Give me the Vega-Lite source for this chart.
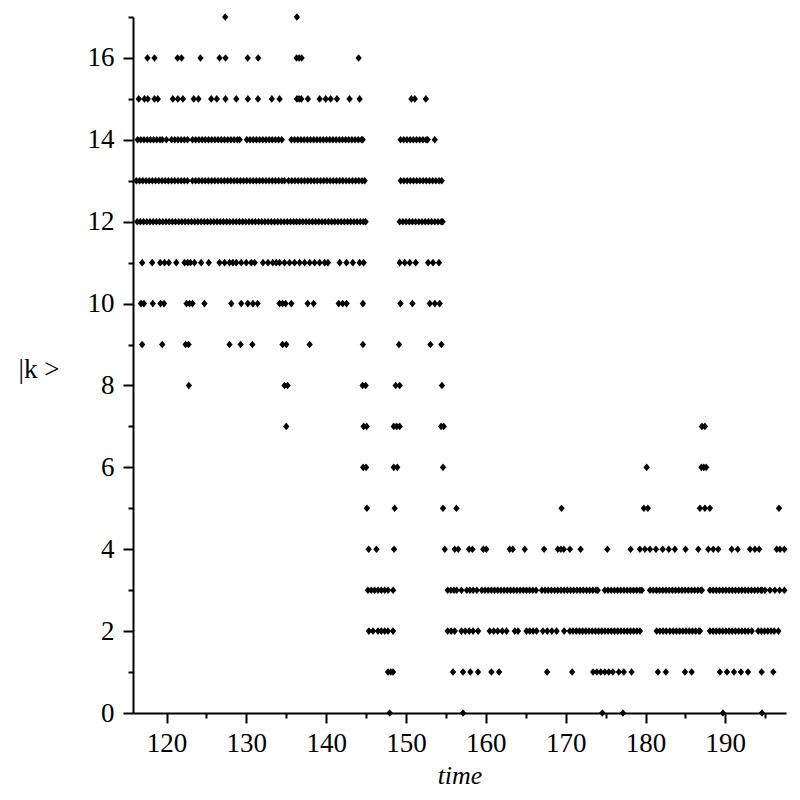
{
"$schema":"https://vega.github.io/schema/vega-lite/v6.json",
"autosize":{"type":"none"},
"padding":{"left":133,"top":17,"right":14,"bottom":87},
"width":653,"height":696,
"background":"white",
"config":{"view":{"stroke":null}},
"datasets":{
"minor":[{"t":160,"k":0}],
"pts":[
{"t":127.35,"k":17},{"t":136.33,"k":17},
{"t":117.61,"k":16},{"t":118.49,"k":16},{"t":121.38,"k":16},{"t":121.88,"k":16},{"t":124.25,"k":16},{"t":126.64,"k":16},{"t":127.39,"k":16},{"t":130.16,"k":16},{"t":131.48,"k":16},{"t":136.29,"k":16},{"t":136.61,"k":16},{"t":136.92,"k":16},{"t":144.06,"k":16},
{"t":116.52,"k":15},{"t":117.24,"k":15},{"t":117.65,"k":15},{"t":118.49,"k":15},{"t":118.91,"k":15},{"t":120.79,"k":15},{"t":121.42,"k":15},{"t":122.05,"k":15},{"t":123.41,"k":15},{"t":124.0,"k":15},{"t":125.6,"k":15},{"t":126.3,"k":15},{"t":127.39,"k":15},{"t":128.74,"k":15},{"t":130.19,"k":15},{"t":131.46,"k":15},{"t":133.19,"k":15},{"t":134.16,"k":15},{"t":136.33,"k":15},{"t":136.61,"k":15},{"t":136.88,"k":15},{"t":137.71,"k":15},{"t":139.18,"k":15},{"t":139.94,"k":15},{"t":140.56,"k":15},{"t":141.35,"k":15},{"t":142.93,"k":15},{"t":144.19,"k":15},{"t":150.68,"k":15},{"t":151.1,"k":15},{"t":152.48,"k":15},
{"t":116.38,"k":14},{"t":116.78,"k":14},{"t":117.18,"k":14},{"t":117.58,"k":14},{"t":117.98,"k":14},{"t":118.38,"k":14},{"t":118.78,"k":14},{"t":119.18,"k":14},{"t":119.48,"k":14},{"t":119.98,"k":14},{"t":120.63,"k":14},{"t":121.03,"k":14},{"t":121.43,"k":14},{"t":121.83,"k":14},{"t":122.23,"k":14},{"t":122.63,"k":14},{"t":123.26,"k":14},{"t":123.66,"k":14},{"t":124.06,"k":14},{"t":124.46,"k":14},{"t":124.86,"k":14},{"t":125.26,"k":14},{"t":125.66,"k":14},{"t":126.06,"k":14},{"t":126.46,"k":14},{"t":126.86,"k":14},{"t":127.26,"k":14},{"t":127.66,"k":14},{"t":128.06,"k":14},{"t":128.46,"k":14},{"t":128.86,"k":14},{"t":129.16,"k":14},{"t":130.06,"k":14},{"t":130.46,"k":14},{"t":130.86,"k":14},{"t":131.26,"k":14},{"t":131.66,"k":14},{"t":132.06,"k":14},{"t":132.46,"k":14},{"t":132.86,"k":14},{"t":133.24,"k":14},{"t":133.64,"k":14},{"t":134.04,"k":14},{"t":134.44,"k":14},{"t":135.64,"k":14},{"t":136.04,"k":14},{"t":136.44,"k":14},{"t":136.84,"k":14},{"t":137.24,"k":14},{"t":137.64,"k":14},{"t":138.04,"k":14},{"t":138.44,"k":14},{"t":138.84,"k":14},{"t":139.24,"k":14},{"t":139.64,"k":14},{"t":140.04,"k":14},{"t":140.44,"k":14},{"t":140.84,"k":14},{"t":141.24,"k":14},{"t":141.64,"k":14},{"t":142.04,"k":14},{"t":142.44,"k":14},{"t":142.82,"k":14},{"t":143.22,"k":14},{"t":143.62,"k":14},{"t":144.02,"k":14},{"t":144.42,"k":14},{"t":144.57,"k":14},{"t":149.32,"k":14},{"t":149.72,"k":14},{"t":150.12,"k":14},{"t":150.52,"k":14},{"t":150.92,"k":14},{"t":151.32,"k":14},{"t":151.72,"k":14},{"t":152.12,"k":14},{"t":152.52,"k":14},{"t":152.72,"k":14},{"t":153.6,"k":14},
{"t":116.23,"k":13},{"t":116.63,"k":13},{"t":117.03,"k":13},{"t":117.43,"k":13},{"t":117.83,"k":13},{"t":118.23,"k":13},{"t":118.63,"k":13},{"t":119.03,"k":13},{"t":119.43,"k":13},{"t":119.83,"k":13},{"t":120.23,"k":13},{"t":120.63,"k":13},{"t":121.03,"k":13},{"t":121.43,"k":13},{"t":121.83,"k":13},{"t":122.23,"k":13},{"t":122.63,"k":13},{"t":123.25,"k":13},{"t":123.65,"k":13},{"t":124.05,"k":13},{"t":124.45,"k":13},{"t":124.85,"k":13},{"t":125.25,"k":13},{"t":125.65,"k":13},{"t":126.05,"k":13},{"t":126.45,"k":13},{"t":126.85,"k":13},{"t":127.25,"k":13},{"t":127.65,"k":13},{"t":128.05,"k":13},{"t":128.45,"k":13},{"t":128.85,"k":13},{"t":129.25,"k":13},{"t":129.65,"k":13},{"t":130.05,"k":13},{"t":130.45,"k":13},{"t":130.85,"k":13},{"t":131.25,"k":13},{"t":131.65,"k":13},{"t":132.05,"k":13},{"t":132.45,"k":13},{"t":132.85,"k":13},{"t":133.25,"k":13},{"t":133.65,"k":13},{"t":134.05,"k":13},{"t":134.45,"k":13},{"t":134.78,"k":13},{"t":135.29,"k":13},{"t":135.69,"k":13},{"t":136.09,"k":13},{"t":136.49,"k":13},{"t":136.89,"k":13},{"t":137.29,"k":13},{"t":137.69,"k":13},{"t":138.09,"k":13},{"t":138.49,"k":13},{"t":138.89,"k":13},{"t":139.29,"k":13},{"t":139.69,"k":13},{"t":140.09,"k":13},{"t":140.49,"k":13},{"t":140.89,"k":13},{"t":141.29,"k":13},{"t":141.69,"k":13},{"t":142.09,"k":13},{"t":142.49,"k":13},{"t":142.89,"k":13},{"t":143.29,"k":13},{"t":143.69,"k":13},{"t":144.09,"k":13},{"t":144.49,"k":13},{"t":144.82,"k":13},{"t":149.34,"k":13},{"t":149.74,"k":13},{"t":150.14,"k":13},{"t":150.54,"k":13},{"t":150.94,"k":13},{"t":151.34,"k":13},{"t":151.74,"k":13},{"t":152.14,"k":13},{"t":152.54,"k":13},{"t":152.94,"k":13},{"t":153.34,"k":13},{"t":153.74,"k":13},{"t":154.14,"k":13},{"t":154.47,"k":13},
{"t":116.33,"k":12},{"t":116.73,"k":12},{"t":117.13,"k":12},{"t":117.53,"k":12},{"t":117.93,"k":12},{"t":118.33,"k":12},{"t":118.73,"k":12},{"t":119.13,"k":12},{"t":119.53,"k":12},{"t":119.93,"k":12},{"t":120.33,"k":12},{"t":120.73,"k":12},{"t":121.13,"k":12},{"t":121.53,"k":12},{"t":121.93,"k":12},{"t":122.33,"k":12},{"t":122.73,"k":12},{"t":123.13,"k":12},{"t":123.53,"k":12},{"t":123.93,"k":12},{"t":124.33,"k":12},{"t":124.73,"k":12},{"t":125.13,"k":12},{"t":125.53,"k":12},{"t":125.93,"k":12},{"t":126.33,"k":12},{"t":126.73,"k":12},{"t":127.13,"k":12},{"t":127.53,"k":12},{"t":127.93,"k":12},{"t":128.33,"k":12},{"t":128.73,"k":12},{"t":129.13,"k":12},{"t":129.53,"k":12},{"t":129.93,"k":12},{"t":130.33,"k":12},{"t":130.73,"k":12},{"t":131.13,"k":12},{"t":131.53,"k":12},{"t":131.93,"k":12},{"t":132.33,"k":12},{"t":132.73,"k":12},{"t":133.13,"k":12},{"t":133.53,"k":12},{"t":133.93,"k":12},{"t":134.33,"k":12},{"t":134.73,"k":12},{"t":135.13,"k":12},{"t":135.53,"k":12},{"t":135.93,"k":12},{"t":136.29,"k":12},{"t":136.67,"k":12},{"t":137.07,"k":12},{"t":137.47,"k":12},{"t":137.87,"k":12},{"t":138.27,"k":12},{"t":138.67,"k":12},{"t":139.07,"k":12},{"t":139.47,"k":12},{"t":139.87,"k":12},{"t":140.27,"k":12},{"t":140.67,"k":12},{"t":141.07,"k":12},{"t":141.47,"k":12},{"t":141.87,"k":12},{"t":142.27,"k":12},{"t":142.67,"k":12},{"t":143.07,"k":12},{"t":143.47,"k":12},{"t":143.87,"k":12},{"t":144.27,"k":12},{"t":144.67,"k":12},{"t":144.94,"k":12},{"t":149.21,"k":12},{"t":149.61,"k":12},{"t":150.01,"k":12},{"t":150.41,"k":12},{"t":150.81,"k":12},{"t":151.21,"k":12},{"t":151.61,"k":12},{"t":152.01,"k":12},{"t":152.41,"k":12},{"t":152.81,"k":12},{"t":153.21,"k":12},{"t":153.61,"k":12},{"t":154.01,"k":12},{"t":154.41,"k":12},{"t":154.59,"k":12},
{"t":116.95,"k":11},{"t":118.2,"k":11},{"t":119.21,"k":11},{"t":119.75,"k":11},{"t":120.29,"k":11},{"t":121.22,"k":11},{"t":122.26,"k":11},{"t":122.64,"k":11},{"t":123.0,"k":11},{"t":123.5,"k":11},{"t":124.34,"k":11},{"t":125.29,"k":11},{"t":126.64,"k":11},{"t":127.27,"k":11},{"t":127.89,"k":11},{"t":128.31,"k":11},{"t":128.74,"k":11},{"t":129.36,"k":11},{"t":129.99,"k":11},{"t":130.62,"k":11},{"t":131.04,"k":11},{"t":132.08,"k":11},{"t":132.71,"k":11},{"t":133.31,"k":11},{"t":133.74,"k":11},{"t":134.16,"k":11},{"t":134.78,"k":11},{"t":135.41,"k":11},{"t":136.04,"k":11},{"t":136.67,"k":11},{"t":137.3,"k":11},{"t":137.93,"k":11},{"t":138.55,"k":11},{"t":139.18,"k":11},{"t":139.81,"k":11},{"t":140.22,"k":11},{"t":141.69,"k":11},{"t":142.54,"k":11},{"t":143.34,"k":11},{"t":144.19,"k":11},{"t":144.69,"k":11},{"t":149.21,"k":11},{"t":149.84,"k":11},{"t":150.47,"k":11},{"t":151.22,"k":11},{"t":152.77,"k":11},{"t":153.38,"k":11},{"t":154.13,"k":11},
{"t":116.8,"k":10},{"t":117.17,"k":10},{"t":118.28,"k":10},{"t":119.25,"k":10},{"t":119.69,"k":10},{"t":122.51,"k":10},{"t":122.89,"k":10},{"t":123.25,"k":10},{"t":124.75,"k":10},{"t":128.11,"k":10},{"t":129.36,"k":10},{"t":130.19,"k":10},{"t":130.82,"k":10},{"t":131.41,"k":10},{"t":134.16,"k":10},{"t":134.53,"k":10},{"t":134.91,"k":10},{"t":135.63,"k":10},{"t":137.68,"k":10},{"t":138.43,"k":10},{"t":141.57,"k":10},{"t":142.07,"k":10},{"t":142.55,"k":10},{"t":144.6,"k":10},{"t":149.3,"k":10},{"t":150.8,"k":10},{"t":152.98,"k":10},{"t":153.61,"k":10},{"t":154.22,"k":10},
{"t":116.95,"k":9},{"t":119.46,"k":9},{"t":122.39,"k":9},{"t":122.76,"k":9},{"t":127.89,"k":9},{"t":129.28,"k":9},{"t":130.75,"k":9},{"t":134.53,"k":9},{"t":135.0,"k":9},{"t":137.93,"k":9},{"t":144.6,"k":9},{"t":149.12,"k":9},{"t":153.05,"k":9},{"t":154.43,"k":9},
{"t":122.8,"k":8},{"t":134.78,"k":8},{"t":135.16,"k":8},{"t":144.56,"k":8},{"t":144.94,"k":8},{"t":148.71,"k":8},{"t":149.21,"k":8},{"t":154.5,"k":8},
{"t":135.0,"k":7},{"t":144.69,"k":7},{"t":145.07,"k":7},{"t":148.46,"k":7},{"t":148.83,"k":7},{"t":149.21,"k":7},{"t":154.4,"k":7},{"t":154.72,"k":7},{"t":187.07,"k":7},{"t":187.44,"k":7},
{"t":144.63,"k":6},{"t":145.0,"k":6},{"t":148.46,"k":6},{"t":148.9,"k":6},{"t":154.63,"k":6},{"t":180.14,"k":6},{"t":187.0,"k":6},{"t":187.3,"k":6},{"t":187.6,"k":6},
{"t":145.1,"k":5},{"t":148.58,"k":5},{"t":154.63,"k":5},{"t":156.31,"k":5},{"t":169.48,"k":5},{"t":179.8,"k":5},{"t":180.3,"k":5},{"t":186.82,"k":5},{"t":187.44,"k":5},{"t":188.07,"k":5},{"t":196.72,"k":5},
{"t":145.32,"k":4},{"t":146.29,"k":4},{"t":148.5,"k":4},{"t":154.85,"k":4},{"t":156.1,"k":4},{"t":156.54,"k":4},{"t":157.9,"k":4},{"t":158.32,"k":4},{"t":159.68,"k":4},{"t":160.06,"k":4},{"t":162.99,"k":4},{"t":163.37,"k":4},{"t":164.87,"k":4},{"t":167.3,"k":4},{"t":169.02,"k":4},{"t":169.4,"k":4},{"t":169.77,"k":4},{"t":170.53,"k":4},{"t":171.87,"k":4},{"t":175.22,"k":4},{"t":178.13,"k":4},{"t":179.3,"k":4},{"t":179.93,"k":4},{"t":180.56,"k":4},{"t":181.31,"k":4},{"t":182.15,"k":4},{"t":182.92,"k":4},{"t":183.68,"k":4},{"t":185.02,"k":4},{"t":186.61,"k":4},{"t":187.86,"k":4},{"t":188.49,"k":4},{"t":189.12,"k":4},{"t":190.8,"k":4},{"t":191.55,"k":4},{"t":193.1,"k":4},{"t":193.7,"k":4},{"t":194.24,"k":4},{"t":196.43,"k":4},{"t":196.85,"k":4},{"t":197.39,"k":4},
{"t":145.23,"k":3},{"t":145.65,"k":3},{"t":146.07,"k":3},{"t":146.49,"k":3},{"t":146.91,"k":3},{"t":147.33,"k":3},{"t":147.75,"k":3},{"t":148.38,"k":3},
{"t":155.22,"k":3},{"t":155.62,"k":3},{"t":156.02,"k":3},{"t":156.35,"k":3},{"t":156.94,"k":3},{"t":157.61,"k":3},{"t":158.01,"k":3},{"t":158.41,"k":3},{"t":158.87,"k":3},
{"t":159.49,"k":3},{"t":159.89,"k":3},{"t":160.29,"k":3},{"t":160.69,"k":3},{"t":161.09,"k":3},{"t":161.49,"k":3},{"t":161.89,"k":3},{"t":162.29,"k":3},{"t":162.69,"k":3},{"t":163.09,"k":3},{"t":163.49,"k":3},{"t":163.89,"k":3},{"t":164.29,"k":3},{"t":164.69,"k":3},{"t":165.09,"k":3},{"t":165.49,"k":3},{"t":165.89,"k":3},{"t":166.29,"k":3},
{"t":167.01,"k":3},{"t":167.41,"k":3},{"t":167.81,"k":3},{"t":168.21,"k":3},{"t":168.61,"k":3},{"t":169.01,"k":3},{"t":169.41,"k":3},{"t":169.81,"k":3},{"t":170.21,"k":3},{"t":170.61,"k":3},{"t":171.01,"k":3},{"t":171.41,"k":3},{"t":171.81,"k":3},{"t":172.21,"k":3},{"t":172.61,"k":3},{"t":173.01,"k":3},{"t":173.41,"k":3},{"t":173.81,"k":3},{"t":174.02,"k":3},
{"t":174.9,"k":3},{"t":175.3,"k":3},{"t":175.7,"k":3},{"t":176.1,"k":3},{"t":176.5,"k":3},{"t":176.9,"k":3},{"t":177.3,"k":3},{"t":177.7,"k":3},{"t":178.1,"k":3},{"t":178.5,"k":3},{"t":178.9,"k":3},{"t":179.3,"k":3},{"t":179.55,"k":3},
{"t":180.56,"k":3},{"t":180.96,"k":3},{"t":181.36,"k":3},{"t":181.76,"k":3},{"t":182.16,"k":3},{"t":182.56,"k":3},{"t":182.96,"k":3},{"t":183.36,"k":3},{"t":183.76,"k":3},{"t":184.16,"k":3},{"t":184.56,"k":3},{"t":184.96,"k":3},{"t":185.36,"k":3},{"t":185.76,"k":3},{"t":186.16,"k":3},{"t":186.56,"k":3},{"t":186.96,"k":3},{"t":187.07,"k":3},
{"t":188.07,"k":3},{"t":188.47,"k":3},{"t":188.87,"k":3},{"t":189.27,"k":3},{"t":189.67,"k":3},{"t":190.07,"k":3},{"t":190.47,"k":3},{"t":190.87,"k":3},{"t":191.27,"k":3},{"t":191.67,"k":3},{"t":192.07,"k":3},{"t":192.47,"k":3},{"t":192.87,"k":3},{"t":193.27,"k":3},{"t":193.67,"k":3},{"t":194.07,"k":3},{"t":194.47,"k":3},{"t":194.58,"k":3},
{"t":194.96,"k":3},{"t":195.6,"k":3},{"t":196.2,"k":3},{"t":196.8,"k":3},{"t":197.4,"k":3},
{"t":145.35,"k":2},{"t":145.86,"k":2},{"t":146.49,"k":2},{"t":146.91,"k":2},{"t":147.33,"k":2},{"t":147.74,"k":2},{"t":148.37,"k":2},
{"t":155.22,"k":2},{"t":155.66,"k":2},{"t":156.1,"k":2},{"t":156.94,"k":2},{"t":157.42,"k":2},{"t":157.92,"k":2},{"t":158.4,"k":2},{"t":159.03,"k":2},{"t":160.49,"k":2},{"t":160.99,"k":2},{"t":161.49,"k":2},{"t":162.06,"k":2},{"t":162.59,"k":2},{"t":163.62,"k":2},{"t":164.03,"k":2},{"t":165.09,"k":2},{"t":165.5,"k":2},{"t":165.92,"k":2},{"t":166.35,"k":2},{"t":167.14,"k":2},{"t":167.7,"k":2},{"t":168.27,"k":2},{"t":168.86,"k":2},{"t":169.81,"k":2},
{"t":170.52,"k":2},{"t":170.92,"k":2},{"t":171.32,"k":2},{"t":171.72,"k":2},{"t":172.12,"k":2},{"t":172.52,"k":2},{"t":172.92,"k":2},{"t":173.32,"k":2},{"t":173.72,"k":2},{"t":174.12,"k":2},{"t":174.52,"k":2},{"t":174.92,"k":2},{"t":175.32,"k":2},{"t":175.72,"k":2},{"t":176.12,"k":2},{"t":176.52,"k":2},{"t":176.92,"k":2},{"t":177.32,"k":2},{"t":177.72,"k":2},{"t":178.12,"k":2},{"t":178.52,"k":2},{"t":178.92,"k":2},{"t":179.3,"k":2},
{"t":181.4,"k":2},{"t":181.8,"k":2},{"t":182.2,"k":2},{"t":182.6,"k":2},{"t":183.06,"k":2},{"t":183.48,"k":2},{"t":183.88,"k":2},{"t":184.28,"k":2},{"t":184.68,"k":2},{"t":185.08,"k":2},{"t":185.48,"k":2},{"t":185.88,"k":2},{"t":186.28,"k":2},{"t":186.68,"k":2},{"t":186.82,"k":2},
{"t":188.07,"k":2},{"t":188.47,"k":2},{"t":188.87,"k":2},{"t":189.27,"k":2},{"t":189.67,"k":2},{"t":190.07,"k":2},{"t":190.47,"k":2},{"t":190.87,"k":2},{"t":191.27,"k":2},{"t":191.67,"k":2},{"t":192.07,"k":2},{"t":192.47,"k":2},{"t":192.87,"k":2},{"t":193.31,"k":2},
{"t":194.12,"k":2},{"t":194.52,"k":2},{"t":194.92,"k":2},{"t":195.32,"k":2},{"t":195.72,"k":2},{"t":196.12,"k":2},{"t":196.64,"k":2},
{"t":147.74,"k":1},{"t":148.08,"k":1},{"t":148.37,"k":1},{"t":155.89,"k":1},{"t":157.14,"k":1},{"t":158.06,"k":1},{"t":159.02,"k":1},{"t":160.7,"k":1},{"t":161.66,"k":1},{"t":167.68,"k":1},{"t":170.81,"k":1},{"t":173.44,"k":1},{"t":173.9,"k":1},{"t":174.4,"k":1},{"t":174.9,"k":1},{"t":175.4,"k":1},{"t":175.91,"k":1},{"t":176.66,"k":1},{"t":177.29,"k":1},{"t":178.26,"k":1},{"t":181.55,"k":1},{"t":182.55,"k":1},{"t":184.94,"k":1},{"t":185.78,"k":1},{"t":189.32,"k":1},{"t":190.2,"k":1},{"t":191.08,"k":1},{"t":191.96,"k":1},{"t":192.84,"k":1},{"t":194.55,"k":1},{"t":196.01,"k":1},
{"t":147.96,"k":0},{"t":157.14,"k":0},{"t":174.59,"k":0},{"t":177.17,"k":0},{"t":189.7,"k":0},{"t":194.59,"k":0}
]},
"resolve":{"axis":{"x":"independent","y":"independent"}},
"layer":[
{"data":{"name":"pts"},
"mark":{"type":"point","shape":"M0,-1.2L1,0L0,1.2L-1,0Z","filled":true,"color":"black","size":40,"opacity":1},
"encoding":{
"x":{"field":"t","type":"quantitative","scale":{"domain":[115.8,197.6],"nice":false,"zero":false},
"axis":{"orient":"bottom","values":[120,130,140,150,160,170,180,190],"tickSize":10,"tickWidth":2,"tickColor":"black","domainColor":"black","domainWidth":2,"grid":false,"labelFont":"Liberation Serif","labelFontSize":27,"labelColor":"black","labelPadding":7,"labelFlush":false,"labelOverlap":false,"format":"d","title":"time","titleFont":"Liberation Serif","titleFontSize":26,"titleFontStyle":"italic","titleFontWeight":"normal","titleColor":"black","titleBaseline":"alphabetic","titleY":70}},
"y":{"field":"k","type":"quantitative","scale":{"domain":[0,17],"nice":false,"zero":false},
"axis":{"orient":"left","values":[0,2,4,6,8,10,12,14,16],"tickSize":10,"tickWidth":2,"tickColor":"black","domainColor":"black","domainWidth":2,"grid":false,"labelFont":"Liberation Serif","labelFontSize":27,"labelColor":"black","labelPadding":9,"labelFlush":false,"labelOverlap":false,"format":"d","title":"|k >","titleFont":"Liberation Serif","titleFontSize":27,"titleFontWeight":"normal","titleColor":"black","titleAngle":0,"titleAlign":"left","titleBaseline":"middle","titleX":-115,"titleY":352}}
}},
{"data":{"name":"minor"},
"mark":{"type":"point","opacity":0},
"encoding":{
"x":{"field":"t","type":"quantitative",
"axis":{"orient":"bottom","values":[125,135,145,155,165,175,185,195],"tickSize":5,"tickWidth":2,"tickColor":"black","domain":false,"labels":false,"grid":false,"title":null}},
"y":{"field":"k","type":"quantitative",
"axis":{"orient":"left","values":[1,3,5,7,9,11,13,15,17],"tickSize":5,"tickWidth":2,"tickColor":"black","domain":false,"labels":false,"grid":false,"title":null}}
}}
]
}
